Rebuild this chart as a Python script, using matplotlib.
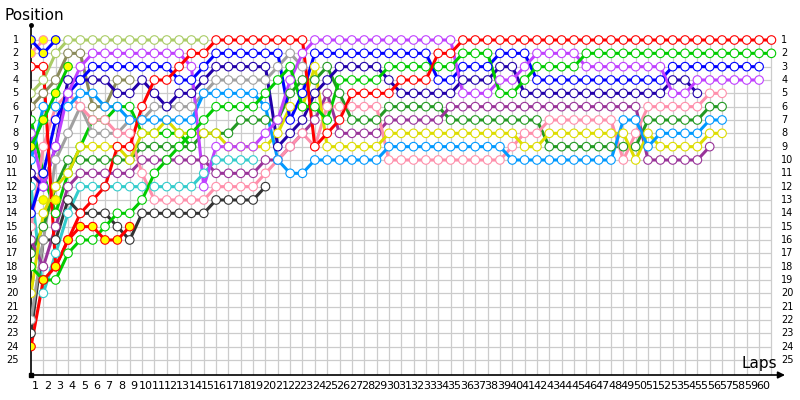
import matplotlib
matplotlib.use("Agg")
import matplotlib.pyplot as plt

laps = list(range(0, 61))
positions = list(range(1, 26))

# each line: position per lap, from its first lap
red_a = ([3, 3, 18, 16, 14, 13, 12, 9, 9, 6, 4, 4, 3, 2, 2] + [1] * 8
         + [9, 8, 7, 5, 5, 5, 5, 4, 4, 4, 2, 2] + [1] * 26)
red_y = [24, 19, 18, 16, 15, 15, 16, 16, 15]
blue_y = [1, 2, 1]
pink_y = [2, 1]
green_y = [9, 7, 5, 3]
yellow_y_start = 1
yellow_y = [13, 13]
olive = [5, 4, 2] + [1] * 12
brown = [6, 5, 4, 2, 2, 6, 6, 4, 4]
violet = ([8, 12, 9, 5, 3] + [2] * 8 + [3, 12, 9, 9, 9, 9, 8, 7, 4, 2] + [1] * 12
          + [5, 5, 5, 4, 4, 3, 2, 2, 2, 2, 3, 3, 3, 3, 3, 3, 3, 5, 5, 4, 4, 4, 4, 4, 4])
blue = ([14, 11, 7, 5, 4] + [3] * 7 + [4, 4, 3] + [2] * 6 + [7, 5] + [2] * 10
        + [4, 4, 3, 3, 3, 2, 2, 2] + [4] * 11 + [3] * 8)
navy = ([11, 12, 9, 4, 4, 4, 4, 5, 5, 4, 5, 6, 5, 5, 4] + [3] * 5
        + [9, 8, 7, 5, 4, 3, 3, 3, 3, 4] + [5] * 5 + [4, 4, 4, 3, 3] + [5] * 12 + [4, 4, 5])
green_a = ([18, 19, 19, 17, 16, 16, 15, 14, 14, 13, 11, 10, 9, 8, 7] + [6] * 4
           + [5, 4, 3, 6, 6, 7, 4, 4, 4, 4] + [3] * 6 + [2] * 3 + [5, 5, 4, 3, 3, 3, 3] + [2] * 16)
green_b = [7, 11, 14, 11, 9, 7, 7, 6, 6, 8, 8, 8, 8, 9]
ltblue = ([10, 6, 6, 6, 5, 5, 6, 6, 7] + [7] * 5 + [5] * 5 + [6, 10, 11, 11] + [10] * 6
          + [9] * 10 + [10] * 9 + [7, 7, 9, 8, 8, 8, 8, 7, 7])
gray = [22, 16, 10, 8, 6, 8, 8, 8, 7, 7, 6, 6, 6, 6, 5, 4, 4, 4, 4, 4, 3, 2, 3]
cyan = [12, 20, 17, 14, 12, 12, 12, 12, 12, 12, 12, 12, 12, 12, 11, 10, 10, 10, 10]
black = [23, 16, 16, 13, 14, 14, 14, 15, 16] + [14] * 6 + [13] * 4 + [12]
plum = ([16, 18, 15, 12, 11, 11, 11, 11, 11] + [10] * 6 + [11] * 4
        + [10, 10, 9, 8, 7, 5, 8, 8, 8, 8, 7] + [7] * 4 + [6] * 16 + [10] * 5 + [9])
yellow = ([20, 14, 12, 11, 9, 9, 9, 9, 10] + [8, 8, 7, 8, 8, 8, 8, 9, 9, 9, 9]
          + [8, 6, 6, 3, 9] + [9] * 4 + [8] * 11 + [9, 9] + [8] * 7 + [10, 8, 9, 9, 9, 9, 8, 8])
pink = ([15, 9, 6, 5, 6, 7, 7, 8, 8, 11] + [13] * 5 + [12] * 4 + [11, 10, 9, 8, 9, 6]
        + [6] * 4 + [10] * 10 + [9, 8, 8] + [7] * 6 + [10, 8] + [6] * 5 + [5, 5])
dkgreen = ([17, 15, 12, 10, 10, 10, 10, 10, 10] + [9] * 5 + [8] * 3 + [7] * 4
           + [5, 4, 4, 3, 5, 7, 7, 7, 6] + [6] * 4 + [7] * 8 + [9] * 8 + [7] * 5 + [6, 6])

# (positions, first lap, colour, how many first markers are yellow)
series = [
    (green_b, 0, "#00cc00", 0),
    (cyan, 0, "#33cccc", 0),
    (black, 0, "#333333", 0),
    (brown, 0, "#8a8a5a", 0),
    (gray, 0, "#a0a0a0", 0),
    (dkgreen, 0, "#229922", 0),
    (plum, 0, "#993399", 0),
    (pink, 0, "#ff8fab", 0),
    (yellow, 0, "#dddd00", 0),
    (ltblue, 0, "#0099ff", 0),
    (olive, 0, "#aacc66", 0),
    (navy, 0, "#2200aa", 0),
    (blue, 0, "#0000ff", 0),
    (violet, 0, "#c040ff", 0),
    (green_a, 0, "#00cc00", 0),
    (red_a, 0, "#ff0000", 0),
    (red_y, 0, "#ff0000", 99),
    (green_y, 0, "#00cc00", 99),
    (yellow_y, yellow_y_start, "#dddd00", 99),
    (pink_y, 0, "#ff8fab", 99),
    (blue_y, 0, "#0000ff", 99),
]

fig = plt.figure(figsize=(8, 4), dpi=100)
ax = fig.add_axes([31 / 800, 25 / 400, 754 / 800, 350 / 400])
ax.set_xlim(0, 61.1)
ax.set_ylim(26.13, -0.125)
ax.axis("off")

# grid
ax.hlines(positions, 0, 60, color="#cccccc", lw=0.9, zorder=0)
ax.vlines(laps[1:], 1, 26.13, color="#cccccc", lw=0.9, zorder=0)

# axes with arrow
ax.plot([0, 0], [-0.125, 26.13], color="black", lw=1.2, clip_on=False)
ax.plot([0], [-0.125], marker="o", ms=2.5, color="black", clip_on=False)
ax.plot([0], [26.13], marker="s", ms=2.5, color="black", clip_on=False)
ax.annotate("", xy=(61.1, 26.13), xytext=(0, 26.13),
            arrowprops=dict(arrowstyle="-|>", color="black", lw=1.2,
                            mutation_scale=10, shrinkA=0, shrinkB=0),
            annotation_clip=False)

for pos, start, col, ny in series:
    xs = list(range(start, start + len(pos)))
    ax.plot(xs, pos, color=col, lw=2.2, zorder=2, solid_capstyle="round")
    faces = ["#ffff00" if i < ny else "white" for i in range(len(pos))]
    ax.scatter(xs, pos, s=38, facecolors=faces, edgecolors=col, linewidths=0.8, zorder=3)

for p in positions:
    ax.text(-1.0, p, str(p), ha="right", va="center", fontsize=7, clip_on=False)
    ax.text(60.8, p, str(p), ha="left", va="center", fontsize=7, clip_on=False)

for n in laps[1:]:
    ax.text(n - 0.67, 26.95, str(n), ha="center", va="center", fontsize=8,
            clip_on=False)

fig.text(5 / 800, 1 - 15 / 400, "Position", ha="left", va="center", fontsize=11)
ax.text(60.45, 25.3, "Laps", ha="right", va="center", fontsize=11)

fig.savefig("out.png", dpi=100)
